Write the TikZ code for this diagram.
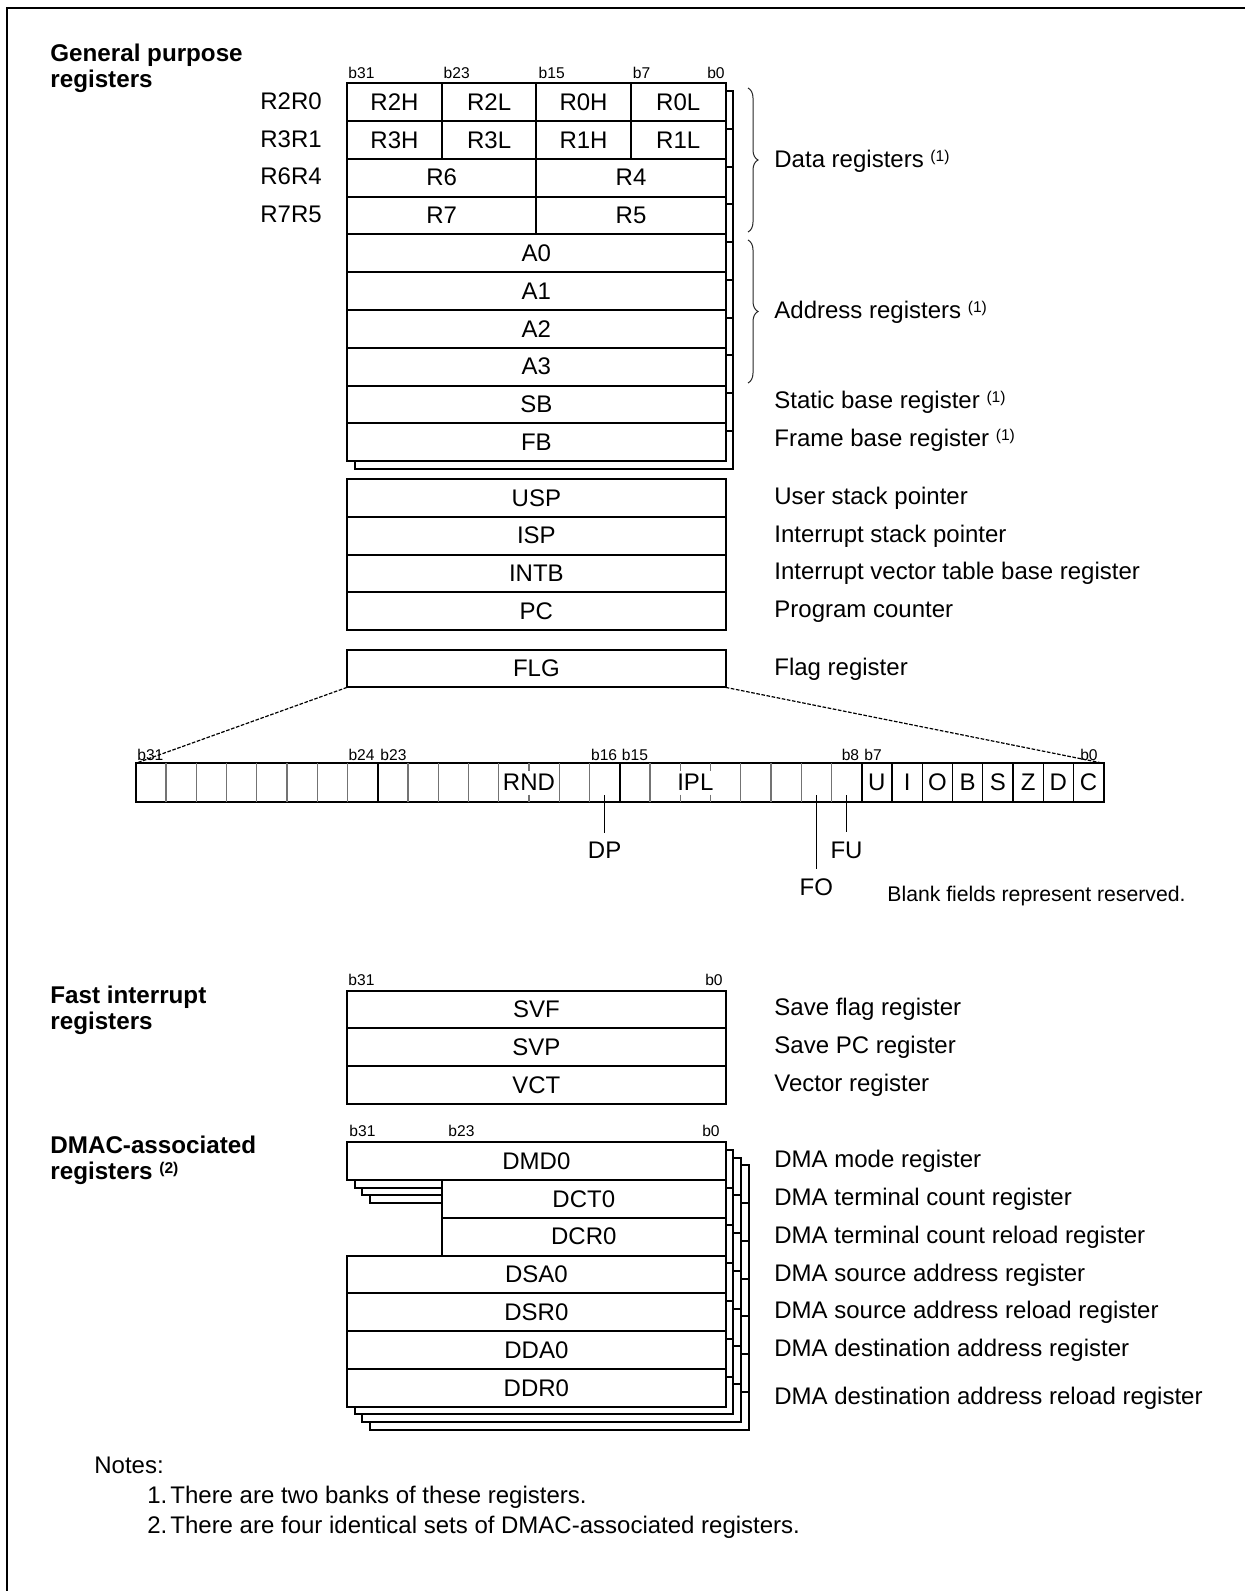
\documentclass[tikz,border=0pt]{standalone}
\usepackage{fontspec}
\setmainfont{Liberation Sans}
\usetikzlibrary{decorations.pathreplacing}
\newcommand\supnote[1]{\raisebox{3pt}{\fontsize{7.8}{8}\selectfont(#1)}}
\begin{document}
\begin{tikzpicture}[x=0.5pt,y=-0.5pt,
  regcell/.style={draw=black,line width=1pt,fill=white,inner sep=0pt,outer sep=0pt,font=\fontsize{12}{14}\selectfont},
  backbox/.style={draw=black,line width=1pt,fill=white},
  regtext/.style={font=\fontsize{12}{14}\selectfont,inner sep=0pt},
  lbl/.style={font=\fontsize{12}{14}\selectfont,anchor=base west,inner sep=0pt},
  heading/.style={font=\bfseries\fontsize{12.1}{13.2}\selectfont,anchor=north west,inner sep=0pt,align=left},
  bitlbl/.style={font=\fontsize{7.8}{9}\selectfont,inner sep=0pt},
  thindiv/.style={draw=black!55,line width=0.55pt},
  flagdiv/.style={draw=black,line width=0.7pt},
  thickdiv/.style={draw=black,line width=1pt},
  lead/.style={draw=black,line width=0.6pt,shorten >=4.5pt},
  dashline/.style={draw=black,line width=0.6pt,dash pattern=on 1.8pt off 0.8pt},
  bracestyle/.style={draw=black!85,line width=0.5pt,decorate,decoration={brace,amplitude=5pt}}]
\newcommand\regcell[6]{%
  \pgfmathsetmacro\rcw{(#4-#2)*0.5}%
  \pgfmathsetmacro\rch{(#5-#3)*0.5}%
  \node[regcell,minimum width=\rcw pt,minimum height=\rch pt] (#1) at ({(#2+#4)/2},{(#3+#5)/2}) {#6};}
\useasboundingbox (0,0) rectangle (1245,1591);
% frame (right and bottom sides lie outside the picture)
\draw[line width=1pt] (7,1600) -- (7,8) -- (1255,8);

% ===== General purpose registers =====
\node[heading] (hgp) at (50,43.3) {General purpose\\registers};
\begin{scope}[shift={(7.7,7.7)}]
  \foreach \ya/\yb in {83.3/121.1,121.1/158.8,158.8/196.6,196.6/234.4,234.4/272.2,272.2/309.9,309.9/347.7,347.7/385.5,385.5/423.2,423.2/461.0}
    \draw[backbox] (347,\ya) rectangle (725.7,\yb);
\end{scope}
\regcell{r2h}{347}{83.3}{441.9}{121.1}{R2H}
\regcell{r2l}{441.9}{83.3}{536.35}{121.1}{R2L}
\regcell{r0h}{536.35}{83.3}{630.8}{121.1}{R0H}
\regcell{r0l}{630.8}{83.3}{725.7}{121.1}{R0L}
\regcell{r3h}{347}{121.1}{441.9}{158.8}{R3H}
\regcell{r3l}{441.9}{121.1}{536.35}{158.8}{R3L}
\regcell{r1h}{536.35}{121.1}{630.8}{158.8}{R1H}
\regcell{r1l}{630.8}{121.1}{725.7}{158.8}{R1L}
\regcell{r6}{347}{158.8}{536.35}{196.6}{R6}
\regcell{r4}{536.35}{158.8}{725.7}{196.6}{R4}
\regcell{r7}{347}{196.6}{536.35}{234.4}{R7}
\regcell{r5}{536.35}{196.6}{725.7}{234.4}{R5}
\regcell{a0}{347}{234.4}{725.7}{272.2}{A0}
\regcell{a1}{347}{272.2}{725.7}{309.9}{A1}
\regcell{a2}{347}{309.9}{725.7}{347.7}{A2}
\regcell{a3}{347}{347.7}{725.7}{385.5}{A3}
\regcell{sb}{347}{385.5}{725.7}{423.2}{SB}
\regcell{fb}{347}{423.2}{725.7}{461.0}{FB}
\node[bitlbl,anchor=base west] (gpb31) at (348,78.3) {b31};
\node[bitlbl,anchor=base west] (gpb23) at (443.3,78.3) {b23};
\node[bitlbl,anchor=base west] (gpb15) at (538.3,78.3) {b15};
\node[bitlbl,anchor=base west] (gpb7) at (632.5,78.3) {b7};
\node[bitlbl,anchor=base east] (gpb0) at (725,78.3) {b0};
\node[lbl] (lr2r0) at (260,109.2) {R2R0};
\node[lbl] (lr3r1) at (260,147) {R3R1};
\node[lbl] (lr6r4) at (260,184.7) {R6R4};
\node[lbl] (lr7r5) at (260,222.5) {R7R5};
\draw[bracestyle] (748,88) -- (748,232);
\draw[bracestyle] (748,240) -- (748,383);
\node[lbl] (ldata) at (774,167) {Data registers \supnote{1}};
\node[lbl] (laddr) at (774,318) {Address registers \supnote{1}};
\node[lbl] (lsb) at (774,408.5) {Static base register \supnote{1}};
\node[lbl] (lfb) at (774,446.7) {Frame base register \supnote{1}};

% ===== USP .. PC, FLG =====
\regcell{usp}{347}{479}{725.7}{516.8}{USP}
\regcell{isp}{347}{516.8}{725.7}{554.5}{ISP}
\regcell{intb}{347}{554.5}{725.7}{592.3}{INTB}
\regcell{pc}{347}{592.3}{725.7}{630.1}{PC}
\regcell{flg}{347}{649.6}{725.7}{687.4}{FLG}
\node[lbl] (lusp) at (774,504.4) {User stack pointer};
\node[lbl] (lisp) at (774,542.2) {Interrupt stack pointer};
\node[lbl] (lintb) at (774,579.9) {Interrupt vector table base register};
\node[lbl] (lpc) at (774,617.7) {Program counter};
\node[lbl] (lflg) at (774,675) {Flag register};

% ===== FLG bit field =====
\node[draw=black,line width=1pt,inner sep=0pt,outer sep=0pt,minimum width=484pt,minimum height=19.2pt] (bits) at (619.7,782.5) {};
\foreach \k in {1,...,7,9,10,11,12,14,15,17,20,21,22,23}
  \draw[thindiv] ({135.7+30.25*\k},763.3) -- ({135.7+30.25*\k},801.7);
\foreach \k in {25,...,31}
  \draw[flagdiv] ({135.7+30.25*\k},763.3) -- ({135.7+30.25*\k},801.7);
\foreach \k in {8,16,24}
  \draw[thickdiv] ({135.7+30.25*\k},763.3) -- ({135.7+30.25*\k},801.7);
\foreach \k in {13,18,19}{
  \draw[thindiv] ({135.7+30.25*\k},763.3) -- ({135.7+30.25*\k},770.5);
  \draw[thindiv] ({135.7+30.25*\k},794.5) -- ({135.7+30.25*\k},801.7);}
\node[regtext] (rnd) at ({135.7+30.25*13},782.5) {RND};
\node[regtext] (ipl) at ({135.7+30.25*18.5},782.5) {IPL};
\foreach \k/\t [count=\i] in {24/U,25/I,26/O,27/B,28/S,29/Z,30/D,31/C}
  \node[regtext] (flag\i) at ({135.7+30.25*(\k+0.5)},782.5) {\t};
\node[bitlbl,anchor=base west] (fb31) at (137,760) {b31};
\node[bitlbl,anchor=base east] (fb24) at (375,760) {b24};
\node[bitlbl,anchor=base west] (fb23) at (380,760) {b23};
\node[bitlbl,anchor=base east] (fb16) at (617.5,760) {b16};
\node[bitlbl,anchor=base west] (fb15) at (621.5,760) {b15};
\node[bitlbl,anchor=base east] (fb8) at (859.5,760) {b8};
\node[bitlbl,anchor=base west] (fb7) at (864,760) {b7};
\node[bitlbl,anchor=base east] (fb0) at (1098,760) {b0};
\draw[dashline] (flg.south west) -- (bits.north west);
\draw[dashline] (flg.south east) -- (bits.north east);
\coordinate (dptop) at (604.6,795);
\coordinate (fotop) at (816.3,795);
\coordinate (futop) at (846.5,795);
\node[regtext,anchor=base] (dp) at (604.6,858.5) {DP};
\node[regtext,anchor=base] (fu) at (846.5,858.3) {FU};
\node[regtext,anchor=base] (fo) at (816.3,895) {FO};
\draw[lead] (dptop) -- (dp.north);
\draw[lead] (futop) -- (fu.north);
\draw[lead] (fotop) -- (fo.north);
\node[anchor=base west,inner sep=0pt,font=\fontsize{10.6}{12}\selectfont] (blank) at (887,901.5) {Blank fields represent reserved.};

% ===== Fast interrupt registers =====
\node[heading] (hfast) at (50,985.2) {Fast interrupt\\registers};
\regcell{svf}{347}{990.5}{725.7}{1028.3}{SVF}
\regcell{svp}{347}{1028.3}{725.7}{1066.0}{SVP}
\regcell{vct}{347}{1066.0}{725.7}{1103.8}{VCT}
\node[bitlbl,anchor=base west] (sb31) at (348,985) {b31};
\node[bitlbl,anchor=base east] (sb0) at (723,985) {b0};
\node[lbl] (lsvf) at (774,1015.9) {Save flag register};
\node[lbl] (lsvp) at (774,1053.7) {Save PC register};
\node[lbl] (lvct) at (774,1091.4) {Vector register};

% ===== DMAC-associated registers =====
\node[heading] (hdmac) at (50,1135.2) {DMAC-associated\\registers \supnote{2}};
\foreach \d in {22.9,15.2,7.6}{
  \begin{scope}[shift={(\d,\d)}]
    \draw[backbox] (347,1142.3) rectangle (725.7,1180.1);
    \draw[backbox] (441.9,1180.1) rectangle (725.7,1217.8);
    \draw[backbox] (441.9,1217.8) rectangle (725.7,1255.6);
    \draw[backbox] (347,1255.6) rectangle (725.7,1293.4);
    \draw[backbox] (347,1293.4) rectangle (725.7,1331.2);
    \draw[backbox] (347,1331.2) rectangle (725.7,1368.9);
    \draw[backbox] (347,1368.9) rectangle (725.7,1406.7);
  \end{scope}}
\regcell{dmd}{347}{1142.3}{725.7}{1180.1}{DMD0}
\regcell{dct}{441.9}{1180.1}{725.7}{1217.8}{DCT0}
\regcell{dcr}{441.9}{1217.8}{725.7}{1255.6}{DCR0}
\regcell{dsa}{347}{1255.6}{725.7}{1293.4}{DSA0}
\regcell{dsr}{347}{1293.4}{725.7}{1331.2}{DSR0}
\regcell{dda}{347}{1331.2}{725.7}{1368.9}{DDA0}
\regcell{ddr}{347}{1368.9}{725.7}{1406.7}{DDR0}
\node[bitlbl,anchor=base west] (db31) at (349,1136.7) {b31};
\node[bitlbl,anchor=base west] (db23) at (448,1136.7) {b23};
\node[bitlbl,anchor=base east] (db0) at (720,1136.7) {b0};
\node[lbl] (ldmd) at (774,1167.7) {DMA mode register};
\node[lbl] (ldct) at (774,1205.5) {DMA terminal count register};
\node[lbl] (ldcr) at (774,1243.2) {DMA terminal count reload register};
\node[lbl] (ldsa) at (774,1281) {DMA source address register};
\node[lbl] (ldsr) at (774,1318.8) {DMA source address reload register};
\node[lbl] (ldda) at (774,1356.5) {DMA destination address register};
\node[lbl] (lddr) at (774,1404.5) {DMA destination address reload register};

% ===== Notes =====
\node[lbl] (notes) at (94,1473) {Notes:};
\node[lbl] (n1num) at (147,1503) {1.};
\node[lbl] (n1) at (170,1503) {There are two banks of these registers.};
\node[lbl] (n2num) at (147,1533) {2.};
\node[lbl] (n2) at (170,1533) {There are four identical sets of DMAC-associated registers.};
\end{tikzpicture}
\end{document}
